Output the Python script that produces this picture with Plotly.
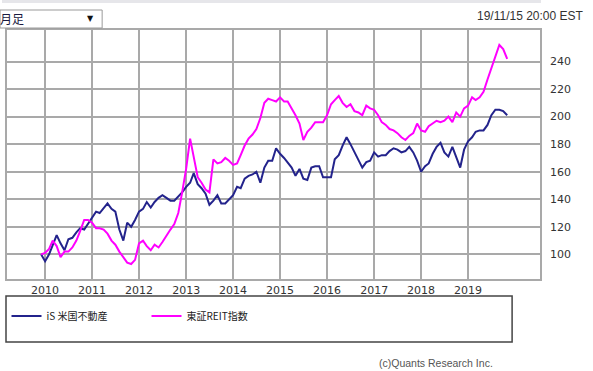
import plotly.graph_objects as go
import pandas as pd

# ---------------- data (monthly, Dec 2009 - Nov 2019, indexed to 100) ----------------
months = pd.date_range("2009-12-01", periods=120, freq="MS")

us_reit = [
    100,
    95, 100, 107, 114, 108, 103, 111, 112, 116, 119, 118, 122,   # 2010
    127, 131, 130, 134, 137, 133, 131, 118, 110, 123, 120, 125,  # 2011
    131, 133, 138, 134, 138, 141, 143, 141, 139, 139, 142, 145,  # 2012
    149, 152, 159, 151, 148, 144, 136, 139, 143, 137, 137, 140,  # 2013
    143, 149, 148, 155, 157, 158, 160, 152, 163, 168, 168, 177,  # 2014
    173, 170, 167, 163, 157, 162, 155, 154, 163, 164, 164, 156,  # 2015
    156, 156, 169, 172, 179, 185, 180, 174, 168, 163, 167, 168,  # 2016
    174, 171, 172, 172, 175, 177, 176, 174, 175, 178, 174, 168,  # 2017
    160, 164, 166, 173, 178, 181, 174, 171, 178, 171, 163, 176,  # 2018
    182, 185, 189, 190, 190, 194, 201, 205, 205, 204, 201,       # 2019
]

tse_reit = [
    100,
    101, 104, 110, 106, 98, 102, 102, 105, 110, 117, 125, 125,   # 2010
    123, 119, 119, 118, 115, 110, 107, 102, 98, 94, 93, 96,      # 2011
    108, 110, 106, 103, 107, 105, 109, 114, 118, 122, 130, 145,  # 2012
    162, 184, 171, 156, 152, 147, 145, 169, 166, 167, 170, 168,  # 2013
    165, 166, 172, 179, 184, 187, 191, 199, 210, 213, 212, 211,  # 2014
    214, 211, 211, 206, 201, 195, 183, 189, 192, 196, 196, 196,  # 2015
    201, 209, 212, 215, 210, 207, 209, 204, 203, 201, 208, 206,  # 2016
    205, 201, 196, 194, 191, 190, 188, 185, 183, 186, 188, 195,  # 2017
    190, 189, 193, 195, 197, 196, 197, 200, 196, 203, 200, 206,  # 2018
    208, 214, 212, 214, 218, 227, 235, 244, 252, 249, 242,       # 2019
]

series_names = ["iS 米国不動産", "東証REIT指数"]
year_ticks = [f"{y}-01-01" for y in range(2010, 2020)]
year_labels = [str(y) for y in range(2010, 2020)]
y_ticks = [100, 120, 140, 160, 180, 200, 220, 240]

# ---------------- geometry helpers ----------------
W, H = 593, 371
L, R, T, B = 5, 53, 30, 92
PW, PH = W - L - R, H - T - B


def px(x):
    return (x - L) / PW


def py(y):
    return 1 - (y - T) / PH


GRID = "#a9a9a9"

fig = go.Figure()
fig.add_trace(go.Scatter(x=months, y=us_reit, mode="lines", name=series_names[0],
                         line=dict(color="#23238c", width=2)))
fig.add_trace(go.Scatter(x=months, y=tse_reit, mode="lines", name=series_names[1],
                         line=dict(color="#ff00ff", width=2)))

fig.update_layout(
    width=W, height=H,
    margin=dict(l=L, r=R, t=T, b=B, pad=0),
    paper_bgcolor="white", plot_bgcolor="white",
    font=dict(family="DejaVu Sans", size=11, color="#333"),
    xaxis=dict(
        type="date", range=["2009-03-11", "2020-07-13"],
        tickvals=year_ticks, ticktext=year_labels,
        showgrid=True, gridcolor=GRID, gridwidth=1.5,
        showline=True, mirror=True, linecolor=GRID, linewidth=1.5,
        ticks="", zeroline=False, fixedrange=True,
        tickfont=dict(family="DejaVu Sans", size=11, color="#333"),
    ),
    yaxis=dict(
        side="right", range=[82.1, 262.9],
        tickvals=y_ticks,
        showgrid=True, gridcolor=GRID, gridwidth=1.5,
        showline=True, mirror=True, linecolor=GRID, linewidth=1.5,
        ticks="", zeroline=False, ticklabelstandoff=6, fixedrange=True,
        tickfont=dict(family="DejaVu Sans", size=11, color="#333"),
    ),
    showlegend=True,
    legend=dict(
        orientation="h", x=px(4.5), y=py(316), xanchor="left", yanchor="middle",
        bgcolor="rgba(0,0,0,0)", borderwidth=0,
        font=dict(family="Noto Sans CJK JP", size=10, color="#222"),
        entrywidth=95, entrywidthmode="pixels", itemwidth=30,
    ),
    shapes=[
        # legend frame
        dict(type="rect", xref="paper", yref="paper",
             x0=px(4), x1=px(512), y0=py(342), y1=py(296),
             line=dict(color="#444", width=1.5), fillcolor="rgba(0,0,0,0)"),
        # dropdown box
        dict(type="rect", xref="paper", yref="paper",
             x0=px(-2), x1=px(100.5), y0=py(28), y1=py(10),
             line=dict(color="#9a9a9a", width=1), fillcolor="white"),
        # faint top band
        dict(type="rect", xref="paper", yref="paper",
             x0=px(0), x1=px(541), y0=py(3), y1=py(0),
             line=dict(width=0), fillcolor="#e6e6ea"),
    ],
    annotations=[
        dict(text="19/11/15 20:00 EST", xref="paper", yref="paper",
             x=px(475), y=py(16), xanchor="left", yanchor="middle", showarrow=False,
             font=dict(family="Liberation Sans", size=12, color="#333")),
        dict(text="月足", xref="paper", yref="paper",
             x=px(-4), y=py(19), xanchor="left", yanchor="middle", showarrow=False,
             font=dict(family="Noto Sans CJK JP", size=12, color="#1a1a40")),
        dict(text="▼", xref="paper", yref="paper",
             x=px(89), y=py(19), xanchor="center", yanchor="middle", showarrow=False,
             font=dict(family="DejaVu Sans", size=8, color="#111")),
        dict(text="(c)Quants Research Inc.", xref="paper", yref="paper",
             x=px(495), y=py(363), xanchor="right", yanchor="middle", showarrow=False,
             font=dict(family="Liberation Sans", size=10.5, color="#555")),
    ],
)

fig.write_html("out.html",
               config={"displayModeBar": False},
               post_script="document.body.style.margin='0';document.body.style.overflow='hidden';")
